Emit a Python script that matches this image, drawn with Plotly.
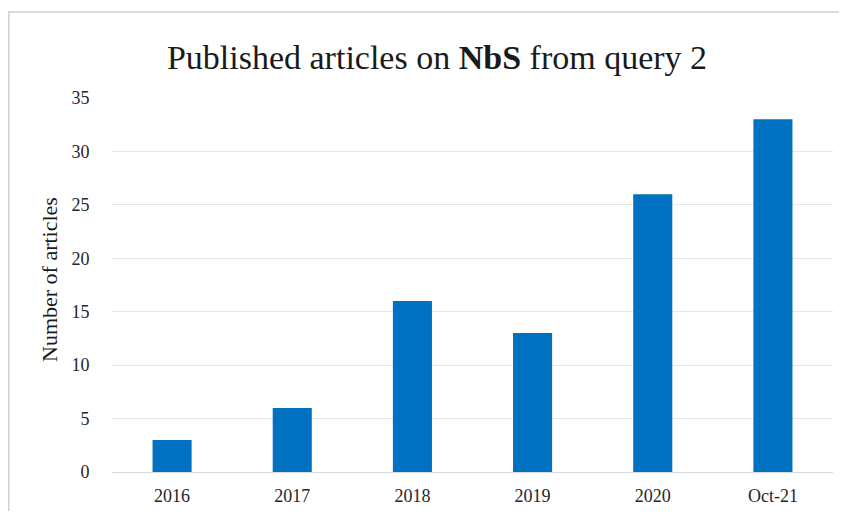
import plotly.graph_objects as go

categories = ["2016", "2017", "2018", "2019", "2020", "Oct-21"]
articles = [3, 6, 16, 13, 26, 33]
y_ticks = [0, 5, 10, 15, 20, 25, 30, 35]

SERIF = "Liberation Serif, Times New Roman, serif"

fig = go.Figure(go.Bar(
    x=categories, y=articles,
    marker=dict(color="#0070C0", line=dict(width=0)),
    width=0.325,
))

# page body has an 8px default margin, so figure coords = screen - 8
W, H = 831, 503
L, R, T, B = 104, 6, 90, 39
pw, ph = W - L - R, H - T - B

fig.update_layout(
    width=W, height=H,
    margin=dict(l=L, r=R, t=T, b=B),
    paper_bgcolor="white", plot_bgcolor="white",
    title=dict(text="Published articles on <b>NbS</b> from query 2",
               font=dict(family=SERIF, size=34, color="#1a1a1a"),
               x=429 / W, xanchor="center", y=1 - 49 / H, yanchor="middle"),
    xaxis=dict(showgrid=False, showline=True, linecolor="#d9d9d9", linewidth=1,
               ticks="outside", ticklen=7, tickcolor="rgba(0,0,0,0)",
               tickfont=dict(family=SERIF, size=18, color="#262626")),
    yaxis=dict(range=[0, 35], tickvals=y_ticks, showgrid=True, gridcolor="#e6e6e6",
               gridwidth=1, zeroline=False, showline=False,
               ticks="outside", ticklen=18, tickcolor="rgba(0,0,0,0)",
               tickfont=dict(family=SERIF, size=18, color="#262626")),
    showlegend=False,
    annotations=[dict(text="Number of articles", textangle=-90,
                      xref="paper", yref="paper",
                      x=(41 - L) / pw, y=(H - B - (280 - 8)) / ph,
                      xanchor="center", yanchor="middle", showarrow=False,
                      font=dict(family=SERIF, size=22, color="#1a1a1a"))],
    shapes=[dict(type="rect", xref="paper", yref="paper",
                 x0=(0.75 - L) / pw, x1=(W + 10 - L) / pw,
                 y0=-(B + 10) / ph, y1=1 + (T - 4) / ph,
                 line=dict(color="#d0d0d0", width=1.5), layer="below")],
)

fig.write_html("out.html")
